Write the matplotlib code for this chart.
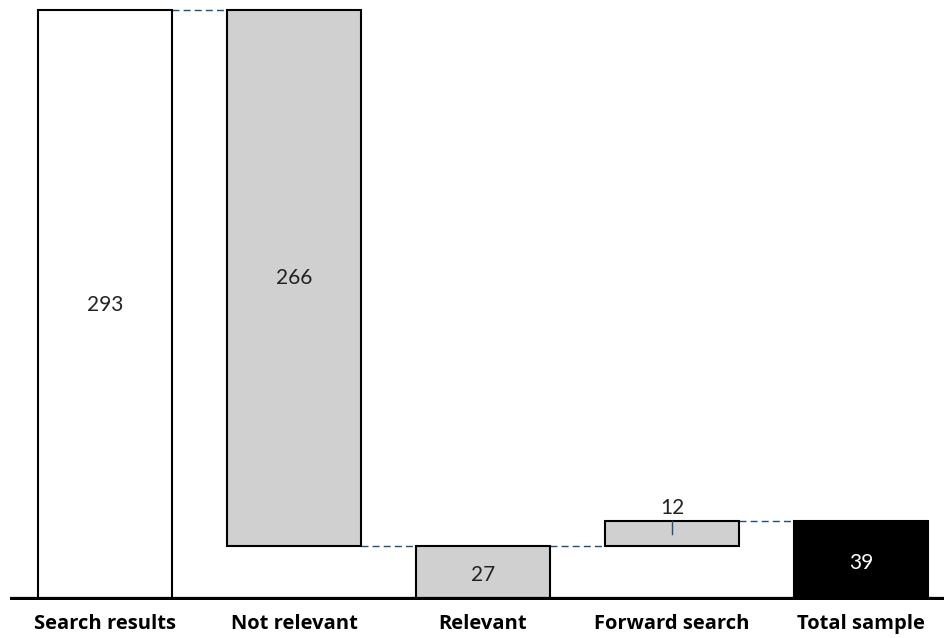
import matplotlib.pyplot as plt

categories = ['Search results', 'Not relevant', 'Relevant', 'Forward search', 'Total sample']
values = [293, -266, 27, 12, 39]
bottoms = [0, 27, 0, 27, 0]
heights = [293, 266, 27, 12, 39]
colors = ['white', '#d0d0d0', '#d0d0d0', '#d0d0d0', 'black']

plt.rcParams['font.family'] = ['Lato', 'DejaVu Sans']

fig = plt.figure(figsize=(9.44, 6.38), dpi=100)
ax = fig.add_axes([10 / 944, 38 / 638, 934 / 944, 600 / 638])

x = list(range(len(categories)))
width = 0.71
ax.bar(x, heights, bottom=bottoms, width=width, color=colors,
       edgecolor='black', linewidth=1.5, zorder=2)

# dashed connectors between neighbouring bars
levels = [293, 27, 27, 39]
for i, lvl in enumerate(levels):
    ax.plot([i + width / 2, i + 1 - width / 2], [lvl, lvl], linestyle=(0, (5, 3)),
            color='#1f4e79', linewidth=1, zorder=1)
# small marker on the forward search bar
ax.plot([3, 3], [33, 39], color='#1f4e79', linewidth=1, zorder=3)

# value labels
label_y = [146.5, 160, 12.5, 45.5, 18.5]
label_c = ['#222222', '#222222', '#222222', '#222222', 'white']
for i in range(len(categories)):
    ax.text(i, label_y[i], str(abs(values[i])), ha='center', va='center',
            fontsize=15, color=label_c[i], zorder=4)

ax.axhline(0, color='black', linewidth=4.5, zorder=3)
ax.set_xlim(-0.503, 4.44)
ax.set_ylim(0, 298)
ax.set_xticks(x)
ax.set_xticklabels(categories, fontsize=14.5, fontweight='bold', family='Open Sans')
ax.tick_params(axis='x', length=0, pad=10)
ax.set_yticks([])
for s in ax.spines.values():
    s.set_visible(False)

fig.savefig('out.png', dpi=100)
